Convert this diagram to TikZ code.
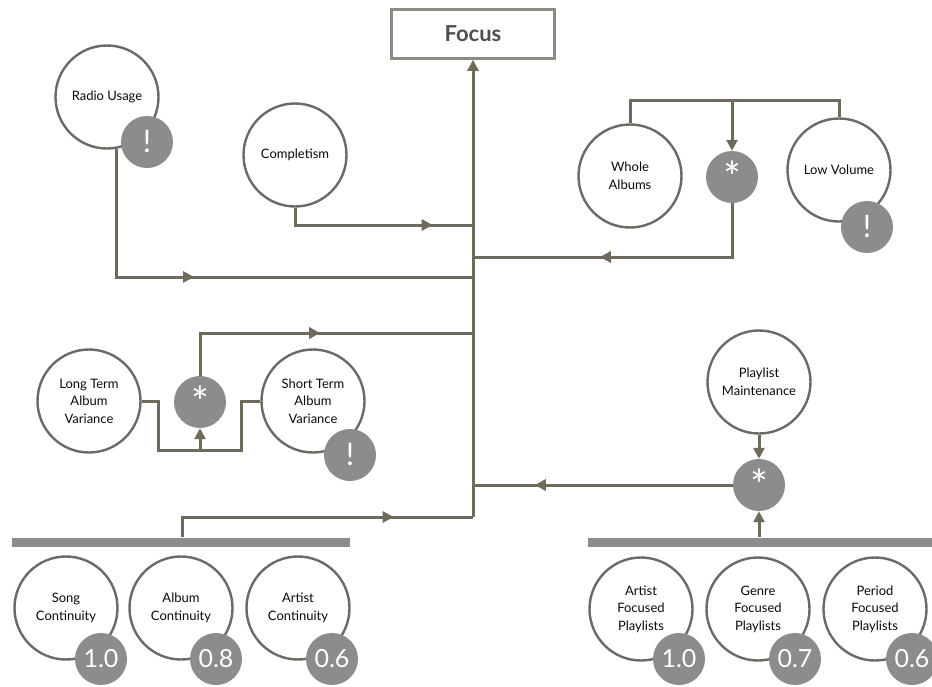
\documentclass[tikz,border=0pt]{standalone}
\usepackage{fontspec}
\setmainfont{Lato}
\usetikzlibrary{arrows.meta,decorations.markings}

\definecolor{wire}{RGB}{110,106,92}
\definecolor{rim}{RGB}{108,106,100}
\definecolor{chip}{RGB}{140,140,140}
\definecolor{frame}{RGB}{142,139,132}
\definecolor{ink}{RGB}{10,10,10}
\definecolor{heading}{RGB}{78,78,78}

\begin{document}
\begin{tikzpicture}[x=1pt,y=-1pt,
  factor/.style={circle,draw=rim,line width=2.4pt,fill=white,minimum size=103pt,
    inner sep=0pt,align=center,text=ink,font=\fontsize{13}{17.5}\selectfont},
  badge/.style={circle,fill=chip,minimum size=52pt,inner sep=0pt,text=white,
    font=\fontsize{25}{25}\selectfont},
  warn/.style={badge,font=\fontsize{31}{31}\selectfont},
  opnode/.style={circle,fill=chip,minimum size=52pt,inner sep=0pt,text=white,
    font=\fontsize{42}{42}\selectfont},
  barshape/.style={rectangle,fill=chip,minimum height=9pt,inner sep=0pt},
  conn/.style={draw=wire,line width=3pt},
  headed/.style={-{Triangle[length=11pt,width=11pt]}},
  midarrow/.style={postaction={decorate,decoration={markings,
    mark=at position #1 with {\arrow{Triangle[length=11pt,width=11pt]}}}}}
]
\useasboundingbox (0,0) rectangle (932,686);
\clip (0,0) rectangle (932,686);

% goal box
\node[draw=frame,line width=2.6pt,minimum width=163pt,minimum height=49pt,
  text=heading,font=\fontsize{22}{22}\selectfont\bfseries] (focus) at (473,34) {Focus};

% factor circles
\node[factor] (radio)  at (107,97)  {Radio Usage};
\node[factor] (comp)   at (295,155) {Completism};
\node[factor] (whole)  at (630,176) {Whole\\Albums};
\node[factor] (low)    at (839,170) {Low Volume};
\node[factor] (long)   at (89,401)  {Long Term\\Album\\Variance};
\node[factor] (short)  at (313,401) {Short Term\\Album\\Variance};
\node[factor] (plm)    at (759,382) {Playlist\\Maintenance};
\node[factor] (song)   at (66,608)  {Song\\Continuity};
\node[factor] (album)  at (181,608) {Album\\Continuity};
\node[factor] (artist) at (298,608) {Artist\\Continuity};
\node[factor] (afp)    at (641,609) {Artist\\Focused\\Playlists};
\node[factor] (gfp)    at (758,609) {Genre\\Focused\\Playlists};
\node[factor] (pfp)    at (875,609) {Period\\Focused\\Playlists};

% combining operators
\node[opnode] (star1) at (732,177) {\raisebox{-10pt}{*}};
\node[opnode] (star2) at (200,402) {\raisebox{-10pt}{*}};
\node[opnode] (star3) at (759,485) {\raisebox{-10pt}{*}};

% grouping bars
\node[barshape,minimum width=338pt] (barL) at (181,542) {};
\node[barshape,minimum width=350pt] (barR) at (763,542) {};

% warning and weight badges
\node[warn] (radiob) at (147,142) {!};
\node[warn] (lowb)   at (867,227) {!};
\node[warn] (shortb) at (350,455) {!};
\node[badge] (songw)   at (101,659) {1.0};
\node[badge] (albumw)  at (216,659) {0.8};
\node[badge] (artistw) at (332,659) {0.6};
\node[badge] (afpw)    at (679,659) {1.0};
\node[badge] (gfpw)    at (795,659) {0.7};
\node[badge] (pfpw)    at (912,659) {0.6};

% junctions on the trunk and bend points
\coordinate (jcomp)  at (473,225);
\coordinate (jalb)   at (473,257);
\coordinate (jradio) at (473,277);
\coordinate (jvar)   at (473,333);
\coordinate (jplay)  at (473,485);
\coordinate (jcont)  at (473,517);
\coordinate (wtop)   at (732,100);
\coordinate (vbend)  at (158,450);
\coordinate (vbend2) at (241,450);
\coordinate (vjoin)  at (200,450);
\coordinate (ctap)   at (182,0);

% trunk into the goal
\draw[conn,headed] (jcont) -- (focus.south);

% left inputs
\draw[conn,midarrow=206pt] (radio.-80) |- (jradio);
\draw[conn,midarrow=155pt] (comp.south) |- (jcomp);

% album pair
\draw[conn] (whole.north) |- (wtop) -| (low.north);
\draw[conn,headed] (wtop) -- (star1.north);
\draw[conn,midarrow=186pt] (star1.south) |- (jalb);

% variance pair
\draw[conn] (long.east) -| (vbend) -- (vbend2) |- (short.west);
\draw[conn,headed] (vjoin) -- (star2.south);
\draw[conn,midarrow=163pt] (star2.north) |- (jvar);

% continuity group
\draw[conn,midarrow=232pt] (barL.north -| ctap) |- (jcont);

% playlist group
\draw[conn,headed] (plm.south) -- (star3.north);
\draw[conn,headed] (barR.north -| star3) -- (star3.south);
\draw[conn,midarrow=198pt] (star3.west) -- (jplay);
\end{tikzpicture}
\end{document}
